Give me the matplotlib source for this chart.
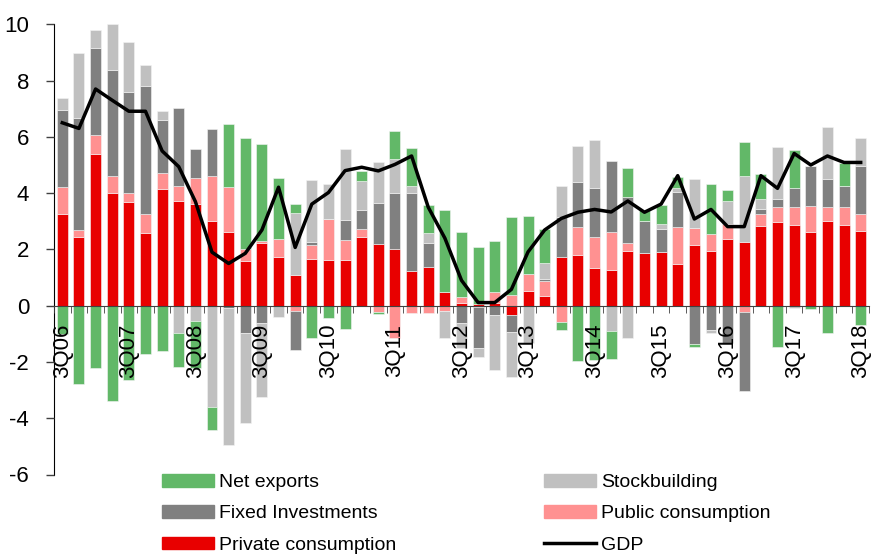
import numpy as np
import matplotlib
matplotlib.use("Agg")
import matplotlib.pyplot as plt
from matplotlib.patches import Patch
from matplotlib.lines import Line2D

plt.rcParams['font.family'] = ['Liberation Sans', 'DejaVu Sans']
plt.rcParams['axes.unicode_minus'] = False

# quarters 3Q06 .. 3Q18
quarters = []
for y in range(6, 19):
    for q in range(1, 5):
        if (y == 6 and q < 3) or (y == 18 and q > 3):
            continue
        quarters.append(f"{q}Q{y:02d}")

# contributions to growth (pp)
private = [3.27, 2.44, 5.38, 3.99, 3.70, 2.59, 4.15, 3.71, 3.61, 3.02,
           2.61, 1.60, 2.24, 1.72, 1.10, 1.66, 1.61, 1.62, 2.45, 2.20,
           2.03, 1.24, 1.37, 0.49, 0.11, 0.05, 0.10, -0.33, 0.53, 0.36,
           1.72, 1.81, 1.35, 1.27, 1.95, 1.87, 1.92, 1.47, 2.17, 1.95,
           2.38, 2.27, 2.84, 2.97, 2.87, 2.63, 3.01, 2.87, 2.67]
public = [0.94, 0.25, 0.69, 0.63, 0.30, 0.66, 0.55, 0.54, 0.93, 1.60,
          1.61, 0.41, 0.06, 0.64, -0.18, 0.48, 1.46, 0.71, 0.26, -0.21,
          -1.14, -0.27, -0.25, -0.20, 0.20, -0.05, 0.37, 0.37, 0.58, 0.53,
          -0.57, 0.97, 1.09, 1.35, 0.27, 0.0, 0.0, 1.34, 0.60, 0.61,
          0.51, -0.24, 0.41, 0.55, 0.63, 0.91, 0.51, 0.63, 0.60]
fixed = [2.76, 3.97, 3.09, 3.77, 3.61, 4.56, 1.89, 2.76, 1.04, 1.65,
         -0.10, -0.98, -0.60, 0.0, -1.40, 0.12, 0.0, 0.72, 0.69, 1.46,
         1.99, 2.78, 0.85, 0.0, -0.60, -1.45, -0.33, -0.62, 0.0, 0.07,
         1.44, 1.63, 1.75, 2.52, 1.65, 1.13, 0.82, 1.24, -1.37, -0.86,
         -1.34, -2.80, 0.19, 0.27, 0.69, 1.44, 0.97, 0.77, 1.69]
stocks = [0.40, 2.31, 0.63, 1.61, 1.76, 0.74, 0.33, -0.98, -0.55, -3.59,
          -4.86, -3.20, -2.65, -0.39, 2.18, 2.21, 1.27, 2.52, 1.03, 1.46,
          1.19, 0.23, 0.37, -0.95, -0.90, -0.33, -1.96, -1.58, -1.34, 0.54,
          1.09, 1.27, 1.70, -0.89, -1.16, 0.0, 0.16, 0.14, 1.73, -0.12,
          0.83, 2.35, 0.35, 1.86, -0.10, 0.0, 1.86, 0.0, 1.00]
net_exports = [-1.00, -2.78, -2.20, -3.38, -2.64, -1.72, -1.61, -1.21, -1.65, -0.83,
               2.24, 3.94, 3.44, 2.17, 0.32, -1.16, -0.45, -0.84, 0.37, -0.08,
               1.00, 1.35, 0.99, 2.91, 2.30, 2.05, 1.84, 2.77, 2.09, 1.21,
               -0.30, -1.97, -1.93, -1.02, 1.01, 0.40, 0.67, 0.40, -0.11, 1.75,
               0.38, 1.19, 0.88, -1.46, 1.34, -0.13, -0.98, 0.79, -0.69]
gdp = [6.50, 6.30, 7.70, 7.30, 6.91, 6.91, 5.50, 4.94, 3.70, 1.90,
       1.50, 1.86, 2.69, 4.21, 2.07, 3.61, 4.02, 4.80, 4.92, 4.79,
       5.02, 5.32, 3.50, 2.40, 0.90, 0.11, 0.11, 0.58, 1.91, 2.69,
       3.10, 3.32, 3.42, 3.33, 3.72, 3.32, 3.61, 4.62, 3.08, 3.42,
       2.81, 2.81, 4.62, 4.17, 5.41, 5.00, 5.32, 5.09, 5.09]

series = [("Private consumption", private, "#e80000"),
          ("Public consumption", public, "#ff9191"),
          ("Fixed Investments", fixed, "#808080"),
          ("Stockbuilding", stocks, "#c0c0c0"),
          ("Net exports", net_exports, "#62b868")]

x = np.arange(len(quarters))

fig = plt.figure(figsize=(8.73, 5.56), dpi=100)
ax = fig.add_axes([54 / 873, 81.5 / 556, 815 / 873, 450.2 / 556])

# stack positives up and negatives down, in the same series order
pos_base = np.zeros(len(x))
neg_base = np.zeros(len(x))
for name, vals, col in series:
    v = np.array(vals)
    bottom = np.where(v >= 0, pos_base, neg_base)
    ax.bar(x, v, bottom=bottom, width=0.66, color=col, edgecolor="#f4f4f4", linewidth=0.4, zorder=1)
    pos_base = pos_base + np.clip(v, 0, None)
    neg_base = neg_base + np.clip(v, None, 0)

ax.plot(x, gdp, color="black", linewidth=2.5, zorder=3)
ax.set_axisbelow(False)

ax.set_xlim(-0.5, len(x) - 0.5)
ax.set_ylim(-6, 10)
ax.set_yticks(range(-6, 11, 2))
ax.tick_params(axis="y", direction="out", length=6, width=1, pad=12, labelsize=16, color="#404040")

ax.spines["top"].set_visible(False)
ax.spines["right"].set_visible(False)
ax.spines["bottom"].set_position(("data", 0))
ax.spines["bottom"].set_color("#404040")
ax.spines["left"].set_color("black")

ax.set_xticks(x[::4])
ax.set_xticklabels(quarters[::4], rotation=90, fontsize=16)
ax.set_xticks(np.append(x - 0.5, x[-1] + 0.5), minor=True)
ax.tick_params(axis="x", which="major", length=0, pad=13)
ax.tick_params(axis="x", which="minor", length=5, direction="out", color="#404040")

handles = [Patch(color="#62b868"), Patch(color="#808080"), Patch(color="#e80000"),
           Patch(color="#c0c0c0"), Patch(color="#ff9191"),
           Line2D([0], [0], color="black", linewidth=2.5)]
labels = ["Net exports", "Fixed Investments", "Private consumption",
          "Stockbuilding", "Public consumption", "GDP"]
fig.legend(handles, labels, ncol=2, loc="upper left", bbox_to_anchor=(162 / 873, 1 - 474 / 556),
           frameon=False, fontsize=14, handlelength=2.68, handleheight=0.62, handletextpad=0.26,
           columnspacing=7.6, labelspacing=0.73, borderpad=0, borderaxespad=0)

fig.savefig("out.png", dpi=100)
